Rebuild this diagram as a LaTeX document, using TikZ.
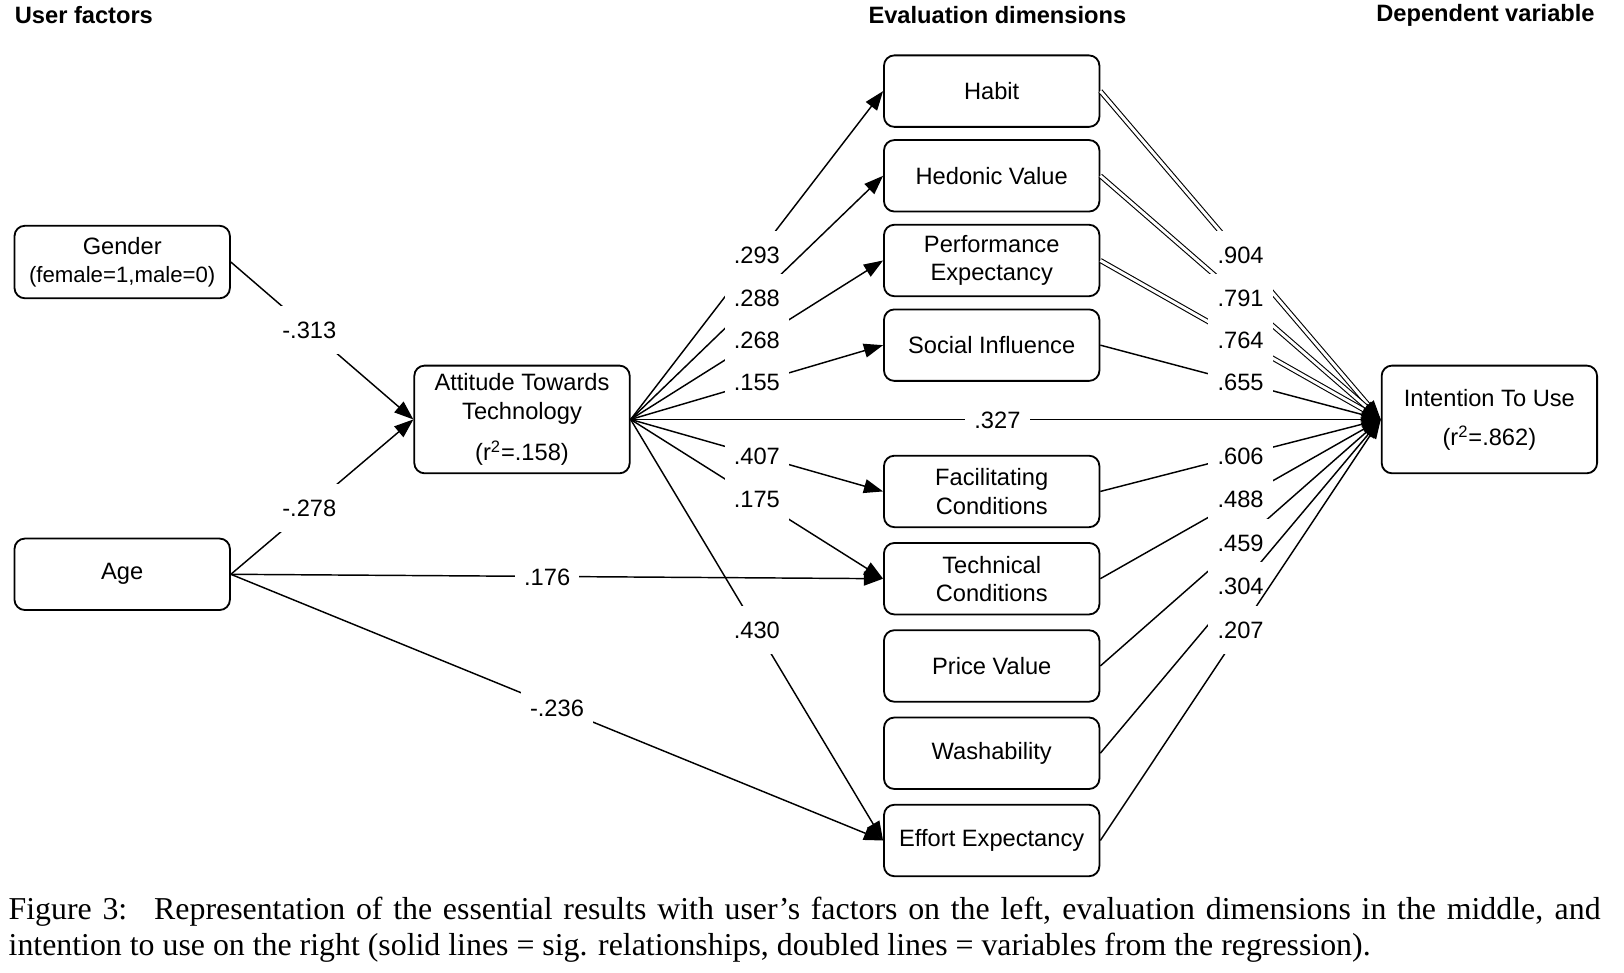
\documentclass[tikz,border=0pt]{standalone}
\usepackage{fontspec}
\setmainfont{Liberation Serif}
\setsansfont{Liberation Sans}
\usetikzlibrary{arrows.meta,positioning}

\begin{document}
\begin{tikzpicture}[
	factor/.style={draw, line width=1pt, rounded corners=0.2cm, minimum width=4.16cm,
		minimum height=1.38cm, align=center, inner sep=0pt,
		font=\sffamily\fontsize{13}{15.5}\selectfont},
	head/.style={inner sep=0pt, font=\sffamily\bfseries\fontsize{13}{15.5}\selectfont},
	coef/.style={fill=white, inner xsep=5pt, inner ysep=8.5pt, text height=9.5pt,
		text depth=0pt, font=\sffamily\fontsize{13}{15.5}\selectfont},
	link/.style={line width=0.8pt, -{Triangle[length=0.37cm, width=0.27cm]}},
	twin/.style={line width=0.6pt, double, double distance=1.6pt,
		-{Triangle[length=0.37cm, width=0.27cm]}}
	]
		\useasboundingbox (0,0) rectangle (31.36,18.77);

		% column titles
		\node[head, anchor=west] (hUser) at (0.28,18.47) {User factors};
		\node[head] (hEval) at (19.26,18.47) {Evaluation dimensions};
		\node[head, anchor=east] (hDep) at (30.8,18.47) {Dependent variable};

		% user factors
		\node[factor, minimum height=1.4cm] (gender) at (2.36,13.71)
			{Gender\\{\fontsize{12.2}{14}\selectfont(female=1,male=0)}};
		\node[factor] (age) at (2.36,7.68) {Age};

		\node[factor, minimum height=2.08cm] (att) at (10.08,10.67)
			{Attitude Towards\\Technology\\[7pt](r\textsuperscript{2}=.158)};

		% evaluation dimensions
		\node[factor] (habit) at (19.15,17.01) {Habit};
		\node[factor, below=0.22cm of habit] (hedonic) {Hedonic Value};
		\node[factor, below=0.22cm of hedonic] (perf) {Performance\\Expectancy};
		\node[factor, below=0.22cm of perf] (social) {Social Influence};

		\node[factor] (facil) at (19.15,9.28) {Facilitating\\Conditions};
		\node[factor, below=0.27cm of facil] (tech) {Technical\\Conditions};
		\node[factor, below=0.27cm of tech] (price) {Price Value};
		\node[factor, below=0.27cm of price] (wash) {Washability};
		\node[factor, below=0.27cm of wash] (effort) {Effort Expectancy};

		% dependent variable
		\node[factor, minimum height=2.08cm] (intent) at (28.76,10.67)
			{Intention To Use\\[6pt](r\textsuperscript{2}=.862)};

		% user factors -> attitude, dimensions
		\draw[link] (gender.east) -- node[coef, pos=0.43] {-.313} (att.west);
		\draw[link] (age.east) -- node[coef, pos=0.43] {-.278} (att.west);
		\draw[link] (age.east) -- node[coef, pos=0.485] {.176} (tech.west);
		\draw[link] (age.east) -- node[coef] {-.236} (effort.west);

		% attitude -> dimensions
		\draw[link] (att.east) -- node[coef] {.293} (habit.west);
		\draw[link] (att.east) -- node[coef] {.288} (hedonic.west);
		\draw[link] (att.east) -- node[coef] {.268} (perf.west);
		\draw[link] (att.east) -- node[coef] {.155} (social.west);
		\draw[link] (att.east) -- node[coef] {.407} (facil.west);
		\draw[link] (att.east) -- node[coef] {.175} (tech.west);
		\draw[link] (att.east) -- node[coef] {.430} (effort.west);
		\draw[link] (att.east) -- node[coef, pos=0.489] {.327} (intent.west);

		% dimensions -> intention
		\draw[twin] (habit.east) -- node[coef] {.904} (intent.west);
		\draw[twin] (hedonic.east) -- node[coef] {.791} (intent.west);
		\draw[twin] (perf.east) -- node[coef] {.764} (intent.west);
		\draw[link] (social.east) -- node[coef] {.655} (intent.west);
		\draw[link] (facil.east) -- node[coef] {.606} (intent.west);
		\draw[link] (tech.east) -- node[coef] {.488} (intent.west);
		\draw[link] (price.east) -- node[coef] {.459} (intent.west);
		\draw[link] (wash.east) -- node[coef] {.304} (intent.west);
		\draw[link] (effort.east) -- node[coef] {.207} (intent.west);

		% caption
		\node[anchor=north west, text width=30.74cm, align=justify, inner sep=0pt,
			font=\fontsize{17.5}{19.6}\selectfont] (caption) at (0.16,1.45)
			{Figure 3: \ Representation of the essential results with user's factors on the left, evaluation dimensions in the middle, and\linebreak
			intention to use on the right (solid lines = sig. relationships, doubled lines = variables from the regression).};
\end{tikzpicture}
\end{document}
